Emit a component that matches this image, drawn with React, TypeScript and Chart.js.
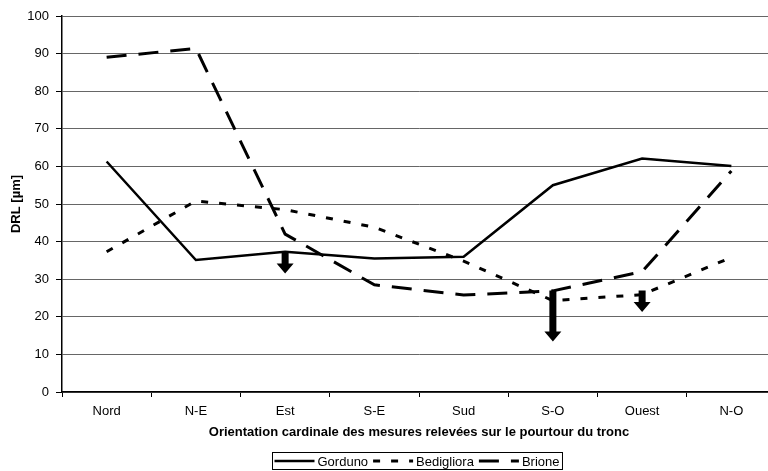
import React, { useEffect, useRef } from 'react';
import { Chart, registerables } from 'chart.js';

Chart.register(...registerables);

const categories = ['Nord', 'N-E', 'Est', 'S-E', 'Sud', 'S-O', 'Ouest', 'N-O'];
const seriesNames = ['Gorduno', 'Bedigliora', 'Brione'];
const gorduno = [61.3, 35.1, 37.3, 35.5, 36, 55, 62.1, 60.1];
const bedigliora = [37.3, 50.8, 48.5, 43.8, 34.8, 24.3, 25.9, 35.8];
const brione = [89, 91.4, 42, 28.5, 25.8, 26.9, 32, 58.8];
const yMin = 0;
const yMax = 100;
const yStep = 10;
const arrowCategories = ['Est', 'S-O', 'Ouest'];
const arrowFrom = [37.3, 27, 27];
const arrowTo = [31.5, 13.4, 21.3];
const yTitle = 'DRL [µm]';
const xTitle = 'Orientation cardinale des mesures relevées sur le pourtour du tronc';

const FONT = '"Liberation Sans", Arial, sans-serif';

const arrowPlugin = {
  id: 'arrows',
  afterDatasetsDraw(chart: any) {
    const { ctx, scales } = chart;
    const x = scales.x;
    const y = scales.y;
    ctx.save();
    ctx.fillStyle = '#000';
    arrowCategories.forEach((c, i) => {
      const px = x.getPixelForValue(categories.indexOf(c));
      const y0 = y.getPixelForValue(arrowFrom[i]);
      const y1 = y.getPixelForValue(arrowTo[i]);
      const sw = 3.5;
      const hw = 8.5;
      const hl = 10;
      ctx.beginPath();
      ctx.moveTo(px - sw, y0);
      ctx.lineTo(px + sw, y0);
      ctx.lineTo(px + sw, y1 - hl);
      ctx.lineTo(px + hw, y1 - hl);
      ctx.lineTo(px, y1);
      ctx.lineTo(px - hw, y1 - hl);
      ctx.lineTo(px - sw, y1 - hl);
      ctx.closePath();
      ctx.fill();
    });
    ctx.restore();
  },
};

const legendPlugin = {
  id: 'boxLegend',
  afterDraw(chart: any) {
    const { ctx, chartArea } = chart;
    const ds = chart.data.datasets;
    ctx.save();
    ctx.font = `13px ${FONT}`;
    const sample = 40;
    const gapText = 3;
    const gapItem = 5;
    const widths = ds.map((d: any) => ctx.measureText(d.label).width);
    const total = 2 + ds.length * (sample + gapText) + widths.reduce((a: number, b: number) => a + b, 0) + (ds.length - 1) * gapItem + 3;
    const cx = (chartArea.left + chartArea.right) / 2;
    const left = Math.round(cx - total / 2) - 1.5;
    const top = 452.5;
    const h = 17;
    ctx.strokeStyle = '#000';
    ctx.lineWidth = 1;
    ctx.strokeRect(left, top, total, h);
    let xc = left + 2;
    const ym = top + h / 2;
    ds.forEach((d: any, i: number) => {
      ctx.beginPath();
      ctx.setLineDash(d.borderDash || []);
      ctx.lineWidth = d.borderWidth;
      ctx.strokeStyle = '#000';
      ctx.moveTo(xc, ym);
      ctx.lineTo(xc + sample, ym);
      ctx.stroke();
      ctx.setLineDash([]);
      xc += sample + gapText;
      ctx.fillStyle = '#000';
      ctx.textBaseline = 'middle';
      ctx.textAlign = 'left';
      ctx.fillText(d.label, xc, ym + 1);
      xc += widths[i] + gapItem;
    });
    ctx.restore();
  },
};

export default function App() {
  const ref = useRef<HTMLCanvasElement>(null);
  useEffect(() => {
    if (!ref.current) return;
    const chart = new Chart(ref.current, {
      type: 'line',
      data: {
        labels: categories,
        datasets: [
          { label: seriesNames[0], data: gorduno, borderColor: '#000', borderWidth: 2.5, pointRadius: 0, tension: 0, fill: false },
          { label: seriesNames[1], data: bedigliora, borderColor: '#000', borderWidth: 3, borderDash: [7, 11], pointRadius: 0, tension: 0, fill: false },
          { label: seriesNames[2], data: brione, borderColor: '#000', borderWidth: 3, borderDash: [20, 12], pointRadius: 0, tension: 0, fill: false },
        ],
      },
      options: {
        responsive: false,
        animation: false,
        layout: { padding: { left: 0, right: 0, top: 16, bottom: 30 } },
        plugins: { legend: { display: false }, tooltip: { enabled: false } },
        scales: {
          x: {
            type: 'category',
            offset: true,
            afterFit: (s: any) => { s.height = 49; },
            grid: { display: true, drawOnChartArea: false, drawTicks: true, tickLength: 5, offset: true, color: '#000', tickColor: '#000' },
            border: { display: true, color: '#000', width: 1.5 },
            ticks: { color: '#000', font: { family: FONT, size: 13 }, padding: 7, maxRotation: 0, autoSkip: false },
            title: { display: true, text: xTitle, color: '#000', font: { family: FONT, size: 13, weight: 'bold' }, padding: { top: 4, bottom: 1 } },
          },
          y: {
            min: yMin,
            max: yMax,
            afterFit: (s: any) => { s.width = 62; },
            grid: { color: '#666', lineWidth: 1, tickLength: 6, tickColor: '#000', drawTicks: true },
            border: { display: true, color: '#000', width: 1.5 },
            ticks: { stepSize: yStep, color: '#000', font: { family: FONT, size: 13 }, padding: 7 },
            title: { display: true, text: yTitle, color: '#000', font: { family: FONT, size: 13, weight: 'bold' }, padding: { top: 9, bottom: 2 } },
          },
        },
      },
      plugins: [arrowPlugin, legendPlugin],
    });
    return () => chart.destroy();
  }, []);
  return (
    <div style={{ position: 'absolute', left: 0, top: 0, width: 768, height: 471, overflow: 'hidden', background: '#fff' }}>
      <canvas ref={ref} width={776} height={471} style={{ display: 'block', width: 776, height: 471 }} />
    </div>
  );
}
